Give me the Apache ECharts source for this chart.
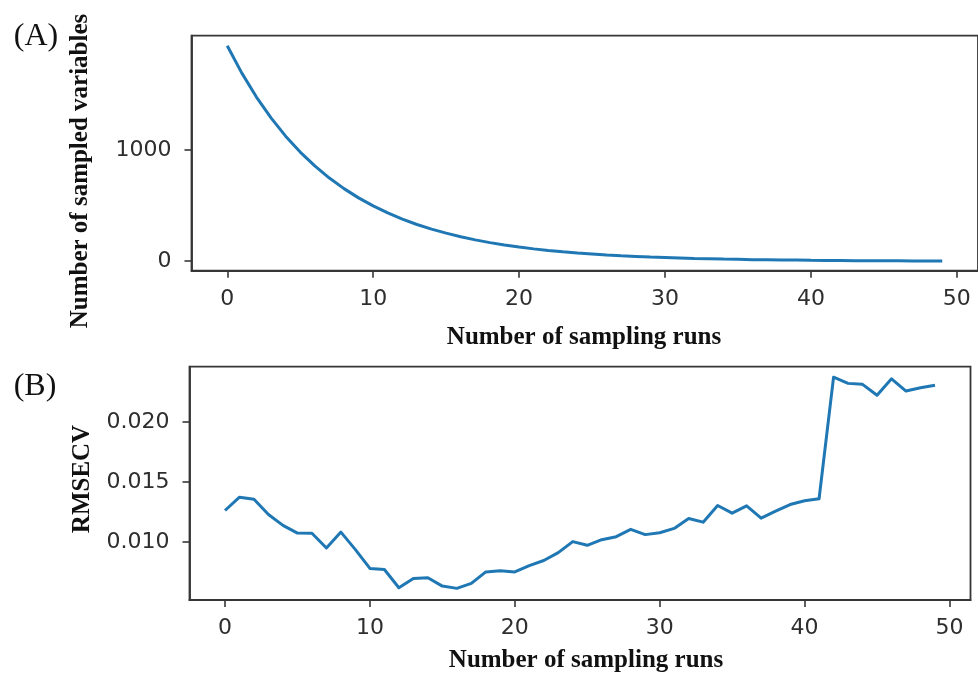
<!DOCTYPE html>
<html>
<head>
<meta charset="utf-8">
<script src="https://cdn.jsdelivr.net/npm/echarts@6/dist/echarts.min.js"></script>
<style>
  html, body { margin: 0; padding: 0; background: #ffffff; }
  #chart { width: 978px; height: 681px; }
</style>
</head>
<body>
<div id="chart"></div>
<script>
// Sampling run index (shared by both panels)
const runs = [0,1,2,3,4,5,6,7,8,9,10,11,12,13,14,15,16,17,18,19,20,21,22,23,24,
              25,26,27,28,29,30,31,32,33,34,35,36,37,38,39,40,41,42,43,44,45,46,47,48,49];

// (A) number of variables retained after each sampling run
const sampledVariables = [1935,1689,1474,1287,1123,980,856,747,652,569,
                          497,434,378,330,288,252,220,192,167,146,
                          128,111,97,85,74,65,56,49,43,37,
                          33,29,25,22,19,17,14,13,11,10,
                          8,7,6,5,5,4,4,3,3,2];

// (B) cross-validated RMSE for each sampling run
const rmsecv = [0.01261,0.01372,0.01355,0.01228,0.01137,0.01073,0.01071,0.00949,0.01081,0.00935,
                0.00778,0.00769,0.00617,0.00695,0.00700,0.00631,0.00612,0.00653,0.00749,0.00758,
                0.00749,0.00802,0.00844,0.00910,0.01002,0.00971,0.01018,0.01043,0.01104,0.01060,
                0.01076,0.01112,0.01195,0.01164,0.01303,0.01239,0.01300,0.01197,0.01256,0.01311,
                0.01342,0.01359,0.02373,0.02321,0.02313,0.02222,0.02359,0.02257,0.02284,0.02306];

// Tick labels
const xTicks = [0, 10, 20, 30, 40, 50];
const yTicksA = [0, 1000];
const yTicksB = [0.010, 0.015, 0.020];

const axisColor = '#363636';
const tickFont = { fontFamily: 'DejaVu Sans', fontSize: 22, color: '#2e2e2e' };
const titleFont = 'bold 25px "Liberation Serif", "Times New Roman", serif';
const panelFont = '32px "Liberation Serif", "Times New Roman", serif';

function xAxisFor(gridIndex, margin) {
  return {
    type: 'value', gridIndex: gridIndex, min: -2.45, max: 51.45,
    splitLine: { show: false },
    axisLine: { show: true, onZero: false, lineStyle: { color: axisColor, width: 1.8 } },
    axisTick: { show: true, length: 7, customValues: xTicks, lineStyle: { color: axisColor, width: 1.6 } },
    axisLabel: Object.assign({ margin: margin, customValues: xTicks, formatter: v => String(v) }, tickFont)
  };
}

function yAxisFor(gridIndex, min, max, ticks, fmt) {
  return {
    type: 'value', gridIndex: gridIndex, min: min, max: max,
    splitLine: { show: false },
    axisLine: { show: true, onZero: false, lineStyle: { color: axisColor, width: 1.8 } },
    axisTick: { show: true, length: 7, customValues: ticks, lineStyle: { color: axisColor, width: 1.6 } },
    axisLabel: Object.assign({ margin: 20, customValues: ticks, formatter: fmt }, tickFont)
  };
}

const chart = echarts.init(document.getElementById('chart'), null, { renderer: 'canvas' });

chart.setOption({
  animation: false,
  backgroundColor: '#ffffff',
  grid: [
    { left: 191.5, top: 35.7, width: 787.5, height: 235, show: true,
      borderColor: axisColor, borderWidth: 1.8, backgroundColor: 'transparent' },
    { left: 189.5, top: 366.7, width: 781, height: 233.3, show: true,
      borderColor: axisColor, borderWidth: 1.8, backgroundColor: 'transparent' }
  ],
  xAxis: [ xAxisFor(0, 18), xAxisFor(1, 17) ],
  yAxis: [
    yAxisFor(0, -85, 2025, yTicksA, v => String(v)),
    yAxisFor(1, 0.00515, 0.0246, yTicksB, v => v.toFixed(3))
  ],
  series: [
    { type: 'line', xAxisIndex: 0, yAxisIndex: 0, showSymbol: false, symbol: 'none',
      lineStyle: { color: '#1f77b4', width: 3 },
      data: runs.map((r, i) => [r, sampledVariables[i]]) },
    { type: 'line', xAxisIndex: 1, yAxisIndex: 1, showSymbol: false, symbol: 'none',
      lineStyle: { color: '#1f77b4', width: 3, join: 'round' },
      data: runs.map((r, i) => [r, rmsecv[i]]) }
  ],
  graphic: [
    { type: 'text', x: 36, y: 37,
      style: { text: '(A)', font: panelFont, fill: '#111', textAlign: 'center', textVerticalAlign: 'middle' } },
    { type: 'text', x: 35, y: 387,
      style: { text: '(B)', font: panelFont, fill: '#111', textAlign: 'center', textVerticalAlign: 'middle' } },
    { type: 'text', x: 81, y: 171, rotation: Math.PI / 2,
      style: { text: 'Number of sampled variables', font: titleFont, fill: '#111', textAlign: 'center', textVerticalAlign: 'middle' } },
    { type: 'text', x: 83, y: 479, rotation: Math.PI / 2,
      style: { text: 'RMSECV', font: titleFont, fill: '#111', textAlign: 'center', textVerticalAlign: 'middle' } },
    { type: 'text', x: 584, y: 338,
      style: { text: 'Number of sampling runs', font: titleFont, fill: '#111', textAlign: 'center', textVerticalAlign: 'middle' } },
    { type: 'text', x: 586, y: 661,
      style: { text: 'Number of sampling runs', font: titleFont, fill: '#111', textAlign: 'center', textVerticalAlign: 'middle' } }
  ]
});
</script>
</body>
</html>
